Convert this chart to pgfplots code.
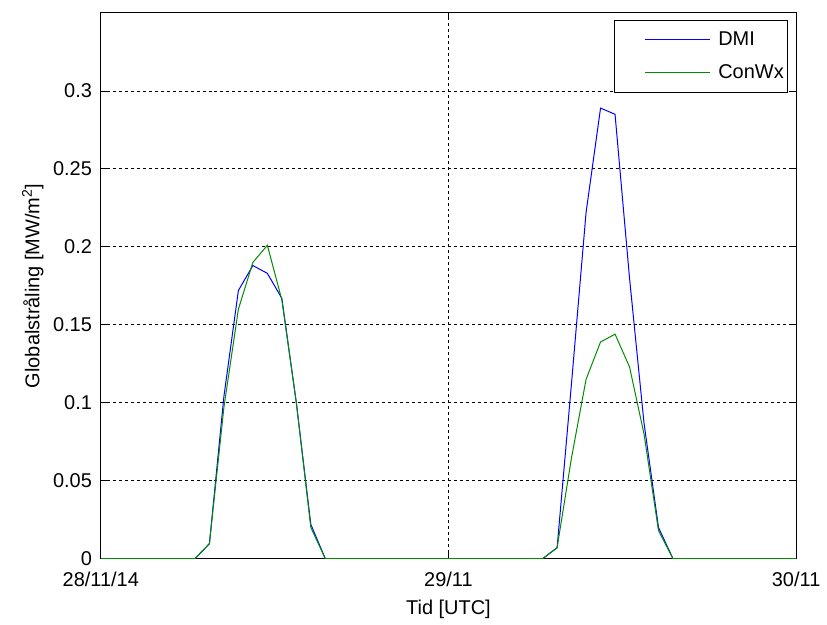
\documentclass[border=0pt]{standalone}
\usepackage{pgfplots}
\pgfplotsset{compat=1.18}
\usepackage{fontspec}
\setmainfont{Liberation Sans}
\definecolor{mblue}{RGB}{0,0,255}
\definecolor{mgreen}{RGB}{0,140,0}
\newcommand{\mfont}{\fontsize{20}{23}\selectfont}
\begin{document}
\mfont
\begin{tikzpicture}
\begin{axis}[
  scale only axis,
  width=697pt, height=547pt,
  xmin=0, xmax=48, ymin=0, ymax=0.35,
  xtick={0,24,48},
  xticklabels={28/11/14,29/11,30/11},
  ytick={0,0.05,0.1,0.15,0.2,0.25,0.3},
  yticklabels={0,0.05,0.1,0.15,0.2,0.25,0.3},
  tick align=inside,
  tick pos=both,
  major tick length=7pt,
  grid=major,
  major grid style={black, line width=0.8pt, dash pattern=on 3pt off 3pt},
  axis line style={black, line width=1pt},
  tick style={black, line width=0.8pt},
  ticklabel style={font=\mfont},
  xticklabel style={yshift=-7pt},
  yticklabel style={xshift=-2pt},
  label style={font=\mfont},
  xlabel={Tid [UTC]},
  ylabel={Globalstråling [MW/m\textsuperscript{2}]},
  xlabel style={yshift=1pt},
  ylabel style={yshift=-4pt},
  legend cell align=left,
  legend style={at={(0.9885,0.987)}, anchor=north east, draw=black, line width=0.8pt,
    font=\mfont, inner xsep=2pt, inner ysep=9pt, row sep=12pt,
    /tikz/every even column/.append style={column sep=0pt}},
  legend image code/.code={\path (0pt,0pt) (99pt,0pt); \draw[#1, line width=1pt] (28pt,0pt) -- (93pt,0pt);},
]
\addplot[mblue, line width=1pt] coordinates {
(0,0) (6.5,0) (7.5,0.0096) (8.5,0.104) (9.5,0.172) (10.5,0.188) (11.5,0.183)
(12.5,0.167) (13.5,0.100) (14.5,0.022) (15.5,0) (30.5,0) (31.5,0.007)
(32.5,0.113) (33.5,0.222) (34.5,0.289) (35.5,0.285) (36.5,0.180) (37.5,0.087)
(38.5,0.020) (39.5,0) (48,0)};
\addlegendentry{DMI}
\addplot[mgreen, line width=1pt] coordinates {
(0,0) (6.5,0) (7.5,0.0096) (8.5,0.097) (9.5,0.160) (10.5,0.190) (11.5,0.201)
(12.5,0.166) (13.5,0.100) (14.5,0.020) (15.5,0) (30.5,0) (31.5,0.007)
(32.5,0.065) (33.5,0.115) (34.5,0.139) (35.5,0.144) (36.5,0.123) (37.5,0.080)
(38.5,0.018) (39.5,0) (48,0)};
\addlegendentry{ConWx}
\end{axis}
\path[use as bounding box] ([shift={(-101pt,-61pt)}]current axis.south west) rectangle ([shift={(29pt,13pt)}]current axis.north east);
\end{tikzpicture}
\end{document}
